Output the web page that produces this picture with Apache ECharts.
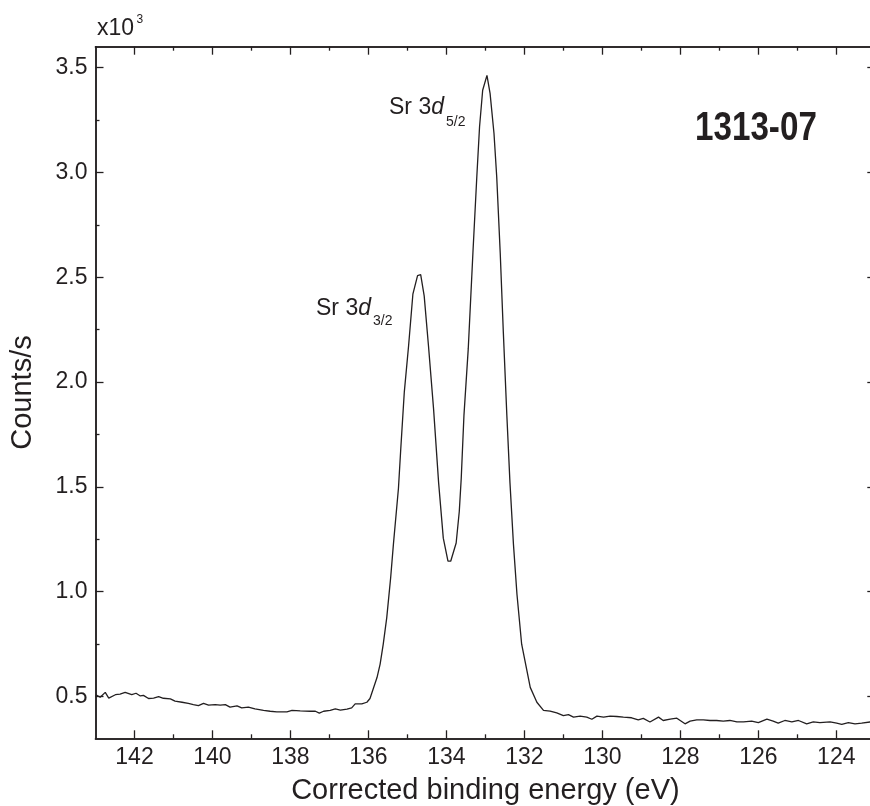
<!DOCTYPE html>
<html>
<head>
<meta charset="utf-8">
<script src="https://cdn.jsdelivr.net/npm/echarts@6/dist/echarts.min.js"></script>
<style>
	html, body { margin: 0; padding: 0; background: #fff; }
	#chart { width: 870px; height: 806px; }
</style>
</head>
<body>
<div id="chart"></div>
<script>
// binding energy (eV) from left to right
const energies = [
	142.99, 142.88, 142.75, 142.66, 142.49, 142.37, 142.24, 142.07, 141.96, 141.85,
	141.77, 141.64, 141.51, 141.38, 141.26, 141.08, 140.96, 140.78, 140.62, 140.49,
	140.36, 140.23, 140.10, 139.93, 139.80, 139.67, 139.55, 139.37, 139.25, 139.08,
	138.91, 138.69, 138.52, 138.35, 138.09, 137.96, 137.75, 137.49, 137.36, 137.26,
	137.15, 136.98, 136.85, 136.72, 136.55, 136.43, 136.34, 136.17, 136.04, 135.96,
	135.87, 135.78, 135.70, 135.62, 135.53, 135.43, 135.36, 135.23, 135.17, 135.08,
	134.97, 134.86, 134.74, 134.66, 134.57, 134.46, 134.33, 134.20, 134.08, 133.96,
	133.89, 133.75, 133.67, 133.62, 133.55, 133.44, 133.32, 133.22, 133.15, 133.07,
	132.96, 132.88, 132.78, 132.71, 132.62, 132.54, 132.45, 132.37, 132.28, 132.19,
	132.07, 131.85, 131.68, 131.51, 131.34, 131.17, 131.00, 130.87, 130.74, 130.57,
	130.40, 130.27, 130.14, 129.97, 129.80, 129.63, 129.46, 129.25, 129.08, 128.95,
	128.78, 128.56, 128.44, 128.26, 128.09, 127.88, 127.75, 127.58, 127.41, 127.24,
	127.07, 126.90, 126.73, 126.55, 126.38, 126.17, 126.00, 125.78, 125.62, 125.49,
	125.32, 125.14, 124.97, 124.76, 124.59, 124.42, 124.16, 123.99, 123.86, 123.69,
	123.52, 123.35, 123.13
];
// counts per second at each energy
const counts = [
	508, 496, 519, 492, 508, 511, 519, 508, 515, 502,
	505, 490, 492, 499, 491, 488, 477, 472, 467, 461,
	456, 467, 458, 461, 458, 461, 449, 455, 445, 449,
	440, 433, 429, 426, 426, 433, 431, 429, 429, 420,
	429, 433, 440, 434, 439, 445, 464, 464, 472, 490,
	540, 590, 654, 749, 876, 1066, 1224, 1493, 1683, 1952,
	2173, 2419, 2508, 2512, 2411, 2173, 1873, 1520, 1255, 1145,
	1145, 1232, 1382, 1540, 1841, 2158, 2617, 2981, 3218, 3392,
	3463, 3377, 3187, 2981, 2617, 2237, 1841, 1520, 1224, 986,
	749, 543, 472, 433, 430, 421, 408, 413, 401, 406,
	401, 391, 406, 401, 406, 404, 401, 398, 388, 395,
	378, 401, 385, 391, 396, 369, 382, 388, 388, 385,
	385, 382, 385, 378, 378, 382, 375, 391, 382, 372,
	385, 378, 385, 369, 378, 375, 378, 372, 366, 375,
	369, 372, 378
];

const xMajor = [124, 126, 128, 130, 132, 134, 136, 138, 140, 142];
const xMinor = [125, 127, 129, 131, 133, 135, 137, 139, 141];
const yMajor = [500, 1000, 1500, 2000, 2500, 3000, 3500];
const yMinor = [750, 1250, 1750, 2250, 2750, 3250];

const FONT = "'Liberation Sans', Arial, Helvetica, sans-serif";
const INK = '#231f20';

let chartDom = document.getElementById('chart');
let chart = echarts.init(chartDom, null, { renderer: 'canvas' });

function xAx(pos, ticks, len, labels) {
	return {
		type: 'value', position: pos, inverse: true, min: 123, max: 143,
		axisLine: { show: true, onZero: false, lineStyle: { color: INK, width: 1.5 } },
		axisTick: { show: true, inside: true, length: len, customValues: ticks, lineStyle: { color: INK, width: 1.3 } },
		axisLabel: labels ? {
			show: true, customValues: ticks, margin: 8, color: INK,
			fontFamily: FONT, fontSize: 23
		} : { show: false },
		splitLine: { show: false }
	};
}

function yAx(pos, ticks, len, labels) {
	return {
		type: 'value', position: pos, min: 300, max: 3600,
		axisLine: { show: true, onZero: false, lineStyle: { color: INK, width: 1.5 } },
		axisTick: { show: true, inside: true, length: len, customValues: ticks, lineStyle: { color: INK, width: 1.3 } },
		axisLabel: labels ? {
			show: true, customValues: ticks, margin: 8, color: INK,
			fontFamily: FONT, fontSize: 23,
			formatter: v => (v / 1000).toFixed(1)
		} : { show: false },
		splitLine: { show: false }
	};
}

function txt(s, x, y, size, extra, sx) {
	return {
		type: 'text', silent: true,
		x: x, y: y, scaleX: sx || 1,
		style: Object.assign({
			text: s, x: 0, y: 0, fill: INK,
			fontFamily: FONT, fontSize: size,
			align: 'left', verticalAlign: 'middle',
			textAlign: 'left', textVerticalAlign: 'middle'
		}, extra || {})
	};
}

let xBottom = xAx('bottom', xMajor, 8, true);
xBottom.name = 'Corrected binding energy (eV)';
xBottom.nameLocation = 'middle';
xBottom.nameGap = 38;
xBottom.nameTextStyle = { fontFamily: FONT, fontSize: 29, color: INK };

let yLeft = yAx('left', yMajor, 8, true);
yLeft.name = 'Counts/s';
yLeft.nameLocation = 'middle';
yLeft.nameGap = 58;
yLeft.nameTextStyle = { fontFamily: FONT, fontSize: 29, color: INK };

let option = {
	animation: false,
	backgroundColor: '#fff',
	grid: {
		left: 95.5, top: 46.7, width: 779.8, bottom: 67.7,
		containLabel: false, outerBoundsMode: 'none'
	},
	xAxis: [
		xBottom,
		xAx('bottom', xMinor, 4, false),
		xAx('top', xMajor, 8, false),
		xAx('top', xMinor, 4, false)
	],
	yAxis: [
		yLeft,
		yAx('left', yMinor, 4, false),
		yAx('right', yMajor, 8, false),
		yAx('right', yMinor, 4, false)
	],
	series: [{
		type: 'line',
		xAxisIndex: 0,
		yAxisIndex: 0,
		showSymbol: false,
		smooth: false,
		lineStyle: { color: INK, width: 1.3 },
		data: energies.map((e, i) => [e, counts[i]])
	}],
	graphic: [
		txt('x10', 97, 28.5, 23),
		txt('3', 136.5, 19.4, 12),
		txt('Sr 3', 389, 107.4, 23),
		txt('d', 431.2, 107.4, 23, { fontStyle: 'italic' }),
		txt('5/2', 446, 122.5, 14),
		txt('Sr 3', 316, 308.4, 23),
		txt('d', 358.2, 308.4, 23, { fontStyle: 'italic' }),
		txt('3/2', 373, 320.8, 14),
		txt('1313-07', 695, 128.8, 40, { fontWeight: 'bold' }, 0.83)
	]
};

chart.setOption(option);
</script>
</body>
</html>
